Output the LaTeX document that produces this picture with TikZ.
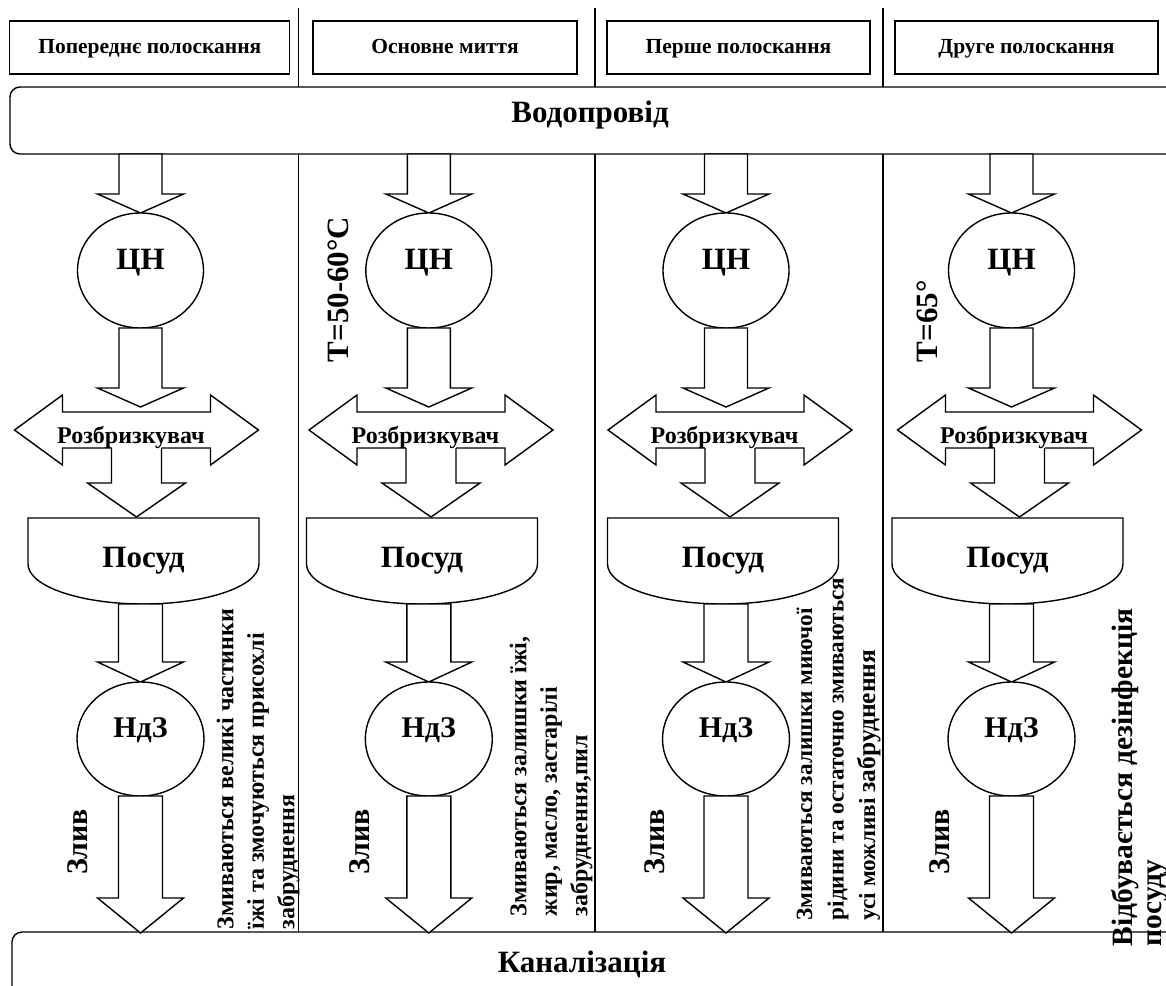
\documentclass[tikz,border=0pt]{standalone}
\usepackage{fontspec}
\setmainfont{Liberation Serif}
\usetikzlibrary{shapes.geometric}
\newcommand{\blockdown}[6]{%
  \filldraw[fill=white] (#1-#5,#2) -- (#1-#5,#3) -- (#1-#6,#3) -- (#1,#4) -- (#1+#6,#3) -- (#1+#5,#3) -- (#1+#5,#2) -- cycle;}
\begin{document}
\begin{tikzpicture}[x=1pt,y=-1pt,line width=1.4pt,
  hdr/.style={draw,line width=1.3pt,minimum height=53pt,inner sep=0pt,text height=15pt,text depth=4pt,font=\fontsize{21.5}{25}\selectfont\bfseries},
  big/.style={inner sep=0pt,font=\fontsize{31}{36}\selectfont\bfseries},
  mid/.style={inner sep=0pt,font=\fontsize{24}{28}\selectfont\bfseries},
  ell/.style={draw,ellipse,fill=white,inner sep=0pt,minimum width=126pt,minimum height=115pt},
  desc/.style={rotate=90,anchor=north west,align=left,inner sep=0pt,font=\fontsize{24}{30.5}\selectfont\bfseries},
  divider/.style={line width=1.8pt}]
\useasboundingbox (0,0) rectangle (1166,985);
\clip (0,0) rectangle (1166,985);

% header boxes
\node[hdr,minimum width=280pt] (h1) at (149.8,47.5) {Попереднє полоскання};
\node[hdr,minimum width=264pt] (h2) at (445,47.5) {Основне миття};
\node[hdr,minimum width=263pt] (h3) at (738.5,47.5) {Перше полоскання};
\node[hdr,minimum width=263pt] (h4) at (1026.5,47.5) {Друге полоскання};

% column dividers
\foreach \x in {298.5,595,883}{
  \draw[divider] (\x,8) -- (\x,87);
  \draw[divider] (\x,154) -- (\x,932);
}

% water supply
\draw[rounded corners=10pt] (10,87) rectangle (1200,154);
\node[big,anchor=base] (vod) at (590,122) {Водопровід};

% sewer
\draw[rounded corners=10pt] (12,932) rectangle (1200,1020);
\node[big,anchor=base] (kan) at (582,972) {Каналізація};

% columns
\foreach \c/\d/\p/\i in {140.5/136.5/143.5/1, 428.8/431/422/2, 726/730/723/3, 1011.5/1019.5/1007.5/4}{
  % water -> pump
  \blockdown{\c}{154}{194}{213}{21.5}{43}
  \node[ell] (cn\i) at (\c,270.5) {};
  \node[big,anchor=base] (cnt\i) at (\c,269) {ЦН};
  % pump -> sprayer
  \blockdown{\c}{328}{388}{407}{21.5}{43}
  % sprayer double arrow
  \filldraw[fill=white] (\d-122,430) -- (\d-74,395) -- (\d-74,412) -- (\d+74,412) -- (\d+74,395) -- (\d+122,430)
     -- (\d+74,465) -- (\d+74,448) -- (\d-74,448) -- (\d-74,465) -- cycle;
  % sprayer -> dishes
  \fill[white] (\d-25,446) -- (\d-25,483) -- (\d-49,483) -- (\d,517) -- (\d+49,483) -- (\d+25,483) -- (\d+25,446) -- cycle;
  \draw (\d-25,448) -- (\d-25,483) -- (\d-49,483) -- (\d,517) -- (\d+49,483) -- (\d+25,483) -- (\d+25,448);
  \node[mid,anchor=base] (rz\i) at (\d-5.5,443) {Розбризкувач};
  % dishes
  \filldraw[fill=white] (\p-115.5,518) -- (\p-115.5,564) .. controls (\p-115.5,586.1) and (\p-63.8,604) .. (\p,604)
     .. controls (\p+63.8,604) and (\p+115.5,586.1) .. (\p+115.5,564) -- (\p+115.5,518) -- cycle;
  \node[big,anchor=base] (ps\i) at (\p,567) {Посуд};
  % dishes -> NdZ
  \blockdown{\c}{604}{662}{682}{22}{43}
  \node[ell,minimum width=127pt,minimum height=114pt] (nz\i) at (\c,739) {};
  \node[big,anchor=base,font=\fontsize{30}{34}\selectfont\bfseries] (nzt\i) at (\c,737) {НдЗ};
  % drain
  \blockdown{\c}{796}{898}{933}{22}{43}
}

% drain labels
\node[big,rotate=90,font=\fontsize{30}{34}\selectfont\bfseries] (zl1) at (78,842) {Злив};
\node[big,rotate=90,font=\fontsize{30}{34}\selectfont\bfseries] (zl2) at (360,842) {Злив};
\node[big,rotate=90,font=\fontsize{30}{34}\selectfont\bfseries] (zl3) at (655,842) {Злив};
\node[big,rotate=90,font=\fontsize{30}{34}\selectfont\bfseries] (zl4) at (940,842) {Злив};

% temperatures
\node[big,rotate=90,anchor=west] (t2) at (338,363) {T=50-60°C};
\node[big,rotate=90,anchor=west] (t4) at (927,363) {T=65°};

% descriptions
\node[desc] (d1) at (216,930) {Змиваються великі частинки\\їжі та змочуються присохлі\\забруднення};
\node[desc] (d2) at (509,917) {Змиваються залишки їжі,\\жир, масло, застарілі\\забруднення,пил};
\node[desc,font=\fontsize{23.2}{31.5}\selectfont\bfseries] (d3) at (796,921) {Змиваються залишки миючої\\рідини та остаточно змиваються\\усі можливі {\fontsize{25.5}{31.5}\selectfont забруднення}};
\node[desc,font=\fontsize{29.5}{28.5}\selectfont\bfseries] (d4) at (1111,947) {Відбувається дезінфекція\\посуду};
\end{tikzpicture}
\end{document}
